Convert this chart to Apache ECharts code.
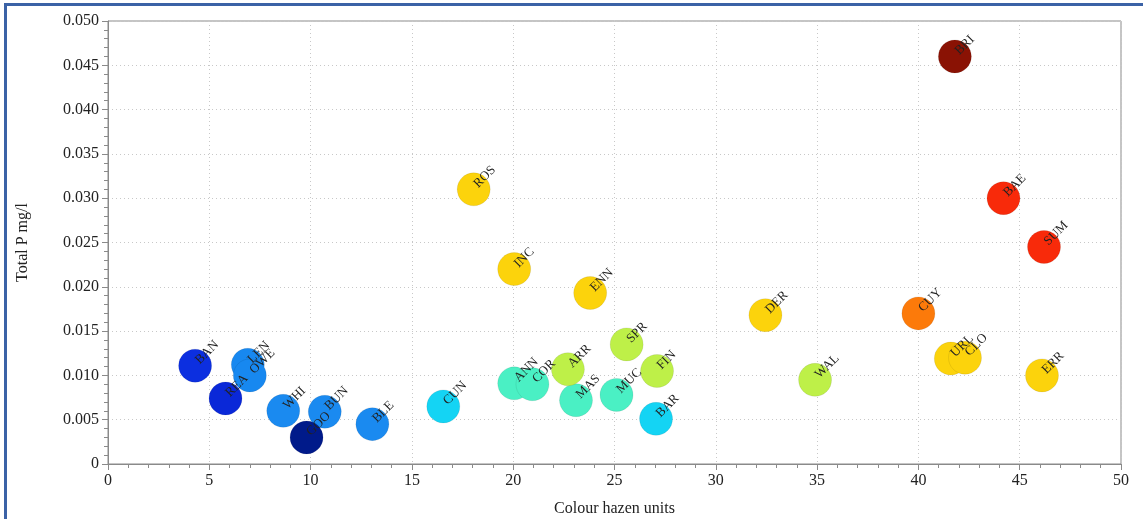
<!DOCTYPE html>
<html>
<head>
<meta charset="utf-8">
<script src="https://cdn.jsdelivr.net/npm/echarts@6/dist/echarts.min.js"></script>
<style>
html,body{margin:0;padding:0;background:#fff;overflow:hidden;}
#frame{position:absolute;left:4px;top:3px;width:1200px;height:600px;border-top:3px solid #3B62A6;border-left:3px solid #3B62A6;box-sizing:border-box;}
#chart{position:absolute;left:0;top:0;width:1143px;height:519px;}
</style>
</head>
<body>
<div id="frame"></div>
<div id="chart"></div>
<script>
const siteNames = ['BAN','REA','LEN','OWE','WHI','BUN','BLE','GOO','CUN','BAR','ANN','COR','MAS','MUC','ARR','SPR','FIN','WAL','ROS','INC','ENN','DER','URL','CLO','ERR','CUY','BAE','SUM','BRI'];
const colourHazen = [4.3, 5.8, 6.9, 7.0, 8.65, 10.7, 13.05, 9.8, 16.55, 27.05, 20.05, 20.95, 23.1, 25.1, 22.7, 25.6, 27.1, 34.9, 18.05, 20.05, 23.8, 32.45, 41.6, 42.3, 46.1, 40.0, 44.2, 46.2, 41.8];
const totalP = [0.0111, 0.0074, 0.0112, 0.0100, 0.0060, 0.0059, 0.0045, 0.0030, 0.0065, 0.0051, 0.0091, 0.0090, 0.0072, 0.0078, 0.0107, 0.0135, 0.0105, 0.0095, 0.0310, 0.0220, 0.0193, 0.0168, 0.0119, 0.0120, 0.0100, 0.0170, 0.0300, 0.0245, 0.0460];
const pointColours = ['#0C2FE0','#0A28D8','#1788F0','#1788F0','#1A8AF0','#1A8AF0','#1A8AF0','#001A8A','#14D4F4','#14D4F4','#4AF0C4','#4AF0C4','#4AF0C4','#4AF0C4','#BEF048','#BEF048','#BEF048','#BEF048','#FCD30C','#FCD30C','#FCD30C','#FCD30C','#FCD30C','#FCD30C','#FCD30C','#FC7A0A','#F82A0A','#F82A0A','#8A1204'];
const xTicks = [0, 50, 5];
const yTicks = [0, 0.05, 0.005];

const serif = 'Liberation Serif';
const data = siteNames.map((n, i) => ({
  name: n,
  value: [colourHazen[i], totalP[i]],
  itemStyle: { color: pointColours[i] }
}));

const chart = echarts.init(document.getElementById('chart'), null, {renderer: 'canvas'});
chart.setOption({
  animation: false,
  backgroundColor: 'transparent',
  grid: { left: 108, right: 22, top: 21, bottom: 55, containLabel: false, outerBoundsMode: 'none',
    show: true, borderColor: '#8a8a8a', borderWidth: 1 },
  xAxis: {
    type: 'value', min: xTicks[0], max: xTicks[1], interval: xTicks[2],
    name: 'Colour hazen units', nameLocation: 'middle', nameGap: 37,
    nameTextStyle: { fontFamily: serif, fontSize: 16, color: '#222' },
    axisLine: { lineStyle: { color: '#8a8a8a' } },
    axisTick: { show: true, length: 6, lineStyle: { color: '#8a8a8a' } },
    minorTick: { show: true, splitNumber: 5, length: 4, lineStyle: { color: '#8a8a8a' } },
    axisLabel: { fontFamily: serif, fontSize: 16, color: '#222', margin: 9 },
    splitLine: { show: true, lineStyle: { color: '#c8c8c8', type: [1, 3], width: 1 } }
  },
  yAxis: {
    type: 'value', min: yTicks[0], max: yTicks[1], interval: yTicks[2],
    name: 'Total P mg/l', nameLocation: 'middle', nameGap: 77,
    nameTextStyle: { fontFamily: serif, fontSize: 16, color: '#222' },
    axisLine: { show: true, lineStyle: { color: '#8a8a8a' } },
    axisTick: { show: true, length: 6, lineStyle: { color: '#8a8a8a' } },
    minorTick: { show: true, splitNumber: 5, length: 4, lineStyle: { color: '#8a8a8a' } },
    axisLabel: { fontFamily: serif, fontSize: 16, color: '#222', margin: 9,
      formatter: v => v === 0 ? '0' : v.toFixed(3) },
    splitLine: { show: true, lineStyle: { color: '#c8c8c8', type: [1, 3], width: 1 } }
  },
  series: [{
    type: 'scatter',
    symbolSize: 33,
    data: data,
    itemStyle: { opacity: 1, borderColor: 'rgba(0,0,0,0.08)', borderWidth: 1 },
    label: {
      show: true, formatter: '{b}', position: 'inside',
      align: 'left', verticalAlign: 'middle', rotate: 45, offset: [4, -1],
      fontFamily: serif, fontSize: 13, color: '#222'
    },
    emphasis: { disabled: true }
  }]
});
</script>
</body>
</html>
